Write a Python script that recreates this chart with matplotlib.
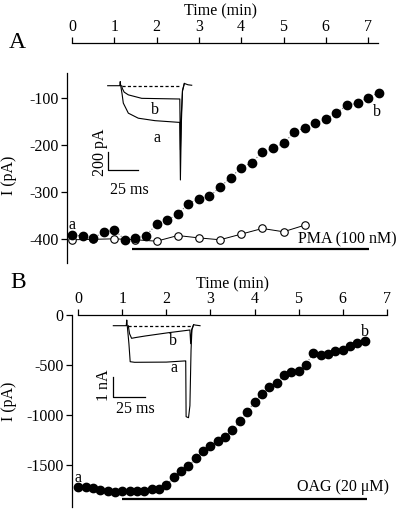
import numpy as np
import matplotlib
matplotlib.use('Agg')
import matplotlib.pyplot as plt

plt.rcParams['font.family'] = ['Liberation Serif', 'DejaVu Serif']
plt.rcParams['axes.unicode_minus'] = False

W, H = 400, 511

# ---- panel A : PMA ----
tA = np.arange(30) * 0.25          # min
pmaA = [-391, -393, -397, -385, -380, -401, -397, -392, -368, -359,
        -347, -324, -314, -309, -289, -269, -248, -237, -215, -207,
        -196, -173, -163, -154, -144, -132, -115, -111, -99, -89]
tA_ctrl = np.arange(12) * 0.5
ctrlA = [-401, -400, -399, -401, -404, -392, -397, -401, -389, -377, -384, -370]
pma_on = (1.43, 7.03)

# ---- panel B : OAG ----
tB = np.arange(40) / 6.0
oagB = [-1723, -1723, -1727, -1750, -1760, -1767, -1757, -1760, -1760, -1757,
        -1740, -1740, -1703, -1623, -1557, -1513, -1433, -1357, -1310, -1260,
        -1217, -1150, -1060, -973, -867, -790, -723, -677, -600, -573,
        -560, -500, -377, -400, -390, -360, -350, -307, -283, -257]
oag_on = (0.985, 6.55)

# ---- inset traces (ms, pA) ----
insA_a_t = [-11.4, -1.6, -1.2, -0.8, 0.3, 1.3, 5.4, 13.5, 27.1, 46.1, 47.3, 47.8, 48.6, 49.5, 51, 54, 57]
insA_a_i = [0, 0, 45, 0, -90, -190, -300, -355, -382, -400, -400, -1030, -400, -60, 25, 10, 5]
insA_b_t = [0, 0.5, 2, 5.4, 16.3, 46.1, 47.3, 47.8, 48.6, 49.5, 51]
insA_b_i = [0, -30, -70, -100, -138, -145, -145, -700, -300, -50, 25]
insB_a_t = [-11.8, -1.6, -1.2, -0.8, 0.5, 1.5, 5, 30, 45.0, 45.3, 45.6, 47.5, 48.6, 49.5, 50.2, 51.5, 53, 56.6]
insB_a_i = [0, 0, 285, 0, -900, -1800, -1830, -1820, -1760, -1760, -4550, -4600, -4000, -1200, -200, 50, 30, 0]
insB_b_t = [0, 1, 2.6, 6, 13.3, 31.7, 48.6, 49.2, 50.0, 51.5]
insB_b_i = [0, -400, -630, -590, -515, -350, -215, -900, -200, 50]


def rect(l, t, r, b):
    return [l / W, 1 - b / H, (r - l) / W, (b - t) / H]


def ftext(x, y, s, **kw):
    fig.text(x / W, 1 - y / H, s, **kw)


fig = plt.figure(figsize=(W / 100, H / 100), dpi=100)
fs = 11.5


def style(ax, xb, out):
    for s in ('right', 'bottom'):
        ax.spines[s].set_visible(False)
    ax.spines['top'].set_bounds(*xb)
    ax.spines['top'].set_position(('outward', out))
    for s in ('top', 'left'):
        ax.spines[s].set_linewidth(0.9)
    ax.xaxis.tick_top()
    ax.tick_params(axis='both', direction='out', length=4.3, width=0.9,
                   labelsize=fs, pad=1.5)
    ax.set_facecolor('none')


# panel A
axA = fig.add_axes(rect(66.5, 72.7, 380, 263))
axA.plot(tA_ctrl, ctrlA, '-o', color='k', lw=0.7, ms=5.4, mfc='white',
         mec='k', mew=0.8, clip_on=False, zorder=2)
axA.plot(tA, pmaA, ':', color='0.45', lw=0.8, clip_on=False, zorder=3)
axA.plot(tA, pmaA, 'o', color='k', ms=6.0, clip_on=False, zorder=4)
axA.plot(pma_on, [-421, -421], color='k', lw=1.6, solid_capstyle='butt')
axA.set_xlim(-0.130, 7.281)
axA.set_ylim(-450.3, -46.3)
axA.set_xticks(range(8))
axA.set_yticks([-100, -200, -300, -400])
style(axA, (0, 7.24), 21.2)
axA.text(7.68, -400, 'PMA (100 nM)', ha='right', va='center', fontsize=fs, clip_on=False)
axA.text(0, -370, 'a', ha='center', va='center', fontsize=fs)
axA.text(7.21, -130, 'b', ha='center', va='center', fontsize=fs)

# panel B
axB = fig.add_axes(rect(71.7, 315, 390, 506.7))
axB.plot(tB, oagB, ':', color='0.45', lw=0.8, clip_on=False, zorder=3)
axB.plot(tB, oagB, 'o', color='k', ms=6.0, clip_on=False, zorder=4)
axB.plot(oag_on, [-1843, -1843], color='k', lw=1.6, solid_capstyle='butt')
axB.set_xlim(-0.150, 7.076)
axB.set_ylim(-1917, 0)
axB.set_xticks(range(8))
axB.set_yticks([0, -500, -1000, -1500])
style(axB, (0, 7), 0)
axB.text(7.05, -1720, 'OAG (20 \u03bcM)', ha='right', va='center', fontsize=fs, clip_on=False)
axB.text(0, -1633, 'a', ha='center', va='center', fontsize=fs)
axB.text(6.51, -167, 'b', ha='center', va='center', fontsize=fs)

# inset A
iA = fig.add_axes(rect(100, 75, 200, 185))
iA.set_xlim(-17.67, 63.76)
iA.set_ylim(-1085, 117)
iA.axis('off')
iA.plot(insA_a_t, insA_a_i, color='k', lw=0.8)
iA.plot(insA_b_t, insA_b_i, color='k', lw=0.8)
iA.plot([0, 47.5], [0, 0], color='k', lw=0.9, dashes=(2.5, 1.8))
iA.plot([-11.4, -11.4, 13.6], [-721, -921, -921], color='k', lw=0.9)

# inset B
iB = fig.add_axes(rect(100, 312, 205, 420))
iB.set_xlim(-22.3, 60.5)
iB.set_ylim(-4715, 685)
iB.axis('off')
iB.plot(insB_a_t, insB_a_i, color='k', lw=0.8)
iB.plot(insB_b_t, insB_b_i, color='k', lw=0.8)
iB.plot([0, 50], [0, 0], color='k', lw=0.9, dashes=(2.5, 1.8))
iB.plot([-11.8, -11.8, 13.2], [-2550, -3550, -3550], color='k', lw=0.9)

# labels
ftext(220, 11, 'Time (min)', ha='center', va='center', fontsize=fs)
ftext(233, 284, 'Time (min)', ha='center', va='center', fontsize=fs)
ftext(9, 175, 'I (pA)', ha='center', va='center', rotation=90, fontsize=fs)
ftext(9, 401, 'I (pA)', ha='center', va='center', rotation=90, fontsize=fs)
ftext(17, 42, 'A', ha='center', va='center', fontsize=17)
ftext(18, 282, 'B', ha='center', va='center', fontsize=17)
ftext(155, 110, 'b', ha='center', va='center', fontsize=fs)
ftext(156.7, 138.3, 'a', ha='center', va='center', fontsize=fs)
ftext(100, 152, '200 pA', ha='center', va='center', rotation=90, fontsize=fs)
ftext(129, 190, '25 ms', ha='center', va='center', fontsize=fs)
ftext(173.3, 340.7, 'b', ha='center', va='center', fontsize=fs)
ftext(174, 368.3, 'a', ha='center', va='center', fontsize=fs)
ftext(104, 385, '1 nA', ha='center', va='center', rotation=90, fontsize=fs)
ftext(135, 409, '25 ms', ha='center', va='center', fontsize=fs)

fig.savefig('out.png', dpi=100)
